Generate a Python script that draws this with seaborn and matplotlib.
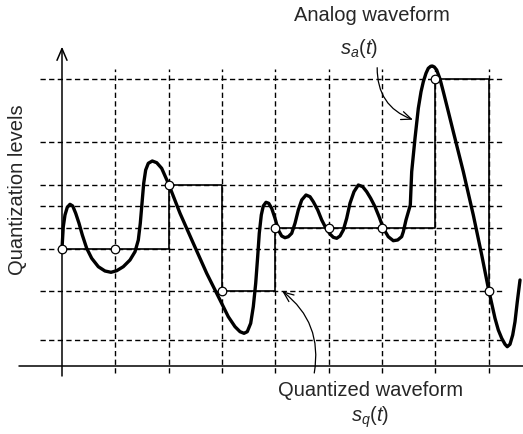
import numpy as np
import pandas as pd
import matplotlib
matplotlib.use("Agg")
import matplotlib.pyplot as plt
import seaborn as sns

sns.set_theme(style="white")
plt.rcParams["font.family"] = ["Liberation Sans", "DejaVu Sans"]
plt.rcParams["mathtext.fontset"] = "custom"
plt.rcParams["mathtext.rm"] = "Liberation Sans"
plt.rcParams["mathtext.it"] = "Liberation Sans:italic"

# ----------------------------------------------------------
# data (time in sample periods, amplitude in arbitrary units)
# ----------------------------------------------------------
levels = [2.6, 7.5, 11.7, 13.8, 16.0, 18.1, 22.4, 28.7]

sample_t = [0, 1, 2, 3, 4, 5, 6, 7, 8]
sample_q = [11.7, 11.7, 18.1, 7.5, 13.8, 13.8, 13.8, 28.7, 7.5]

# analog waveform
analog_t = [0.000, 0.024, 0.056, 0.099, 0.150, 0.201, 0.257, 0.319, 0.381, 0.463,
            0.557, 0.681, 0.806, 0.919, 1.026, 1.149, 1.275, 1.369, 1.431, 1.468,
            1.500, 1.532, 1.569, 1.618, 1.693, 1.776, 1.869, 1.993, 2.213, 2.462,
            2.713, 2.963, 3.118, 3.244, 3.338, 3.413, 3.474, 3.538, 3.587, 3.632,
            3.669, 3.699, 3.737, 3.774, 3.825, 3.876, 3.932, 3.994, 4.056, 4.119,
            4.181, 4.243, 4.307, 4.369, 4.431, 4.495, 4.575, 4.650, 4.712, 4.795,
            4.870, 4.950, 5.025, 5.087, 5.151, 5.213, 5.275, 5.338, 5.400, 5.475,
            5.556, 5.638, 5.713, 5.788, 5.869, 5.950, 6.025, 6.118, 6.212, 6.294,
            6.369, 6.400, 6.450, 6.531, 6.557, 6.619, 6.681, 6.732, 6.775, 6.825,
            6.868, 6.913, 6.943, 6.981, 7.026, 7.088, 7.150, 7.244, 7.337, 7.525,
            7.712, 7.870, 7.994, 8.119, 8.181, 8.245, 8.307, 8.349, 8.400, 8.451,
            8.494, 8.537, 8.588]
analog_a = [11.74, 13.90, 15.07, 15.84, 16.14, 15.97, 15.24, 14.24, 13.07, 11.74,
            10.74, 9.90, 9.47, 9.34, 9.50, 9.90, 10.57, 11.40, 12.57, 14.24,
            16.24, 18.24, 19.57, 20.24, 20.47, 20.30, 19.74, 18.24, 15.24, 12.24,
            9.24, 6.57, 4.90, 3.90, 3.40, 3.24, 3.40, 4.24, 5.90, 8.24,
            10.90, 13.24, 15.07, 15.97, 16.34, 16.24, 15.74, 14.74, 13.57, 12.97,
            12.80, 12.90, 13.24, 14.24, 15.57, 16.57, 17.07, 16.90, 16.40, 15.57,
            14.57, 13.74, 13.17, 12.84, 12.74, 12.97, 13.57, 14.74, 16.24, 17.40,
            18.07, 17.90, 17.40, 16.74, 15.90, 14.84, 13.74, 12.90, 12.50, 12.57,
            12.90, 13.40, 14.57, 16.07, 19.40, 22.74, 25.74, 27.40, 28.40, 29.24,
            29.74, 29.94, 29.97, 29.87, 29.57, 28.67, 27.40, 25.40, 23.40, 19.40,
            15.07, 11.07, 7.74, 4.74, 3.57, 2.74, 2.14, 1.90, 2.14, 3.07,
            4.40, 6.40, 8.57]

analog = pd.DataFrame({"t": analog_t, "a": analog_a})
quant = pd.DataFrame({"t": sample_t, "q": sample_q})

# ----------------------------------------------------------
# figure
# ----------------------------------------------------------
fig = plt.figure(figsize=(5.23, 4.34), dpi=100)
ax = fig.add_axes([0, 0, 1, 1])
ax.set_xlim(-1.1625, 8.644)
ax.set_ylim(-6.83, 36.57)
ax.axis("off")

dash_kw = dict(color="black", linewidth=1.0, dashes=(3.8, 2.4), zorder=1)

# quantization level grid (horizontal) and sampling instants (vertical)
for lv in levels:
    ax.plot([-0.41, 8.25], [lv, lv], **dash_kw)
for t in sample_t[1:]:
    ax.plot([t, t], [-0.73, 29.67], **dash_kw)

# axes
ax.plot([-0.81, 8.644], [0, 0], color="black", linewidth=1.1, zorder=2)
ax.annotate("", xy=(0, 31.9), xytext=(0, -1.03),
            arrowprops=dict(arrowstyle="->,head_length=0.7,head_width=0.3",
                            color="black", linewidth=1.1, shrinkA=0, shrinkB=0),
            zorder=2)

# quantized (staircase) waveform
sns.lineplot(data=quant, x="t", y="q", drawstyle="steps-post", color="black",
             linewidth=1.2, ax=ax, zorder=3)

# analog waveform
sns.lineplot(data=analog, x="t", y="a", sort=False, color="black",
             linewidth=2.4, solid_joinstyle="round", solid_capstyle="round",
             ax=ax, zorder=4)

# samples
sns.scatterplot(data=quant, x="t", y="q", s=38, color="white",
                edgecolor="black", linewidth=0.9, ax=ax, zorder=5)

# labels
fs = 14.5
ax.text(-0.84, 17.6, "Quantization levels", rotation=90, fontsize=fs,
        ha="center", va="center")
ax.text(5.81, 35.0, "Analog waveform", fontsize=fs, ha="center", va="center")
ax.text(5.57, 31.7, r"$s_a(t)$", fontsize=fs, ha="center", va="center")
ax.text(5.78, -2.45, "Quantized waveform", fontsize=fs, ha="center", va="center")
ax.text(5.78, -5.2, r"$s_q(t)$", fontsize=fs, ha="center", va="center")

arrow_kw = dict(arrowstyle="->,head_length=0.6,head_width=0.25", color="black",
                linewidth=0.9, shrinkA=0, shrinkB=0)
ax.annotate("", xy=(6.58, 24.6), xytext=(5.91, 29.8),
            arrowprops=dict(connectionstyle="arc3,rad=0.35", **arrow_kw))
ax.annotate("", xy=(4.13, 7.45), xytext=(4.73, -0.73),
            arrowprops=dict(connectionstyle="arc3,rad=0.3", **arrow_kw))

ax.set_xlabel("")
ax.set_ylabel("")
fig.savefig("out.png", dpi=100)
